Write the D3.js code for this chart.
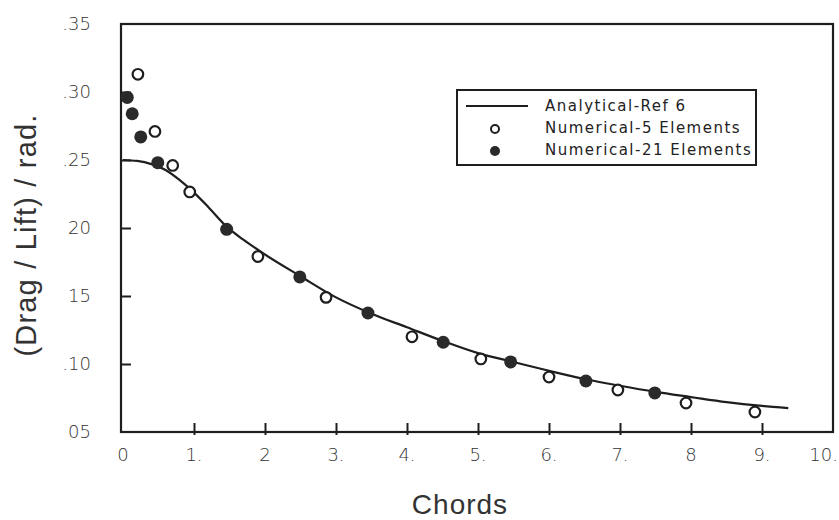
<!DOCTYPE html>
<html>
<head>
<meta charset="utf-8">
<script src="https://cdn.jsdelivr.net/npm/d3@7"></script>
<style>
  body { margin: 0; background: #fff; }
</style>
</head>
<body>
<script>
// data
var xTicks = [0, 1, 2, 3, 4, 5, 6, 7, 8, 9, 10];
var xTickLabels = ["0", "1.", "2", "3.", "4.", "5.", "6.", "7.", "8", "9.", "10."];
var yTicks = [0.05, 0.10, 0.15, 0.20, 0.25, 0.30, 0.35];
var yTickLabels = ["05", ".10", "15", "20", ".25", ".30", ".35"];

// Analytical-Ref 6 curve
var analyticalX = [0, 0.2, 0.4, 0.6, 0.8, 1.0, 1.2, 1.46, 1.7, 2.0, 2.5, 3.0, 3.5, 4.0, 4.5, 5.0, 5.5, 6.0, 6.5, 7.0, 7.5, 8.0, 8.5, 9.0, 9.37];
var analyticalY = [0.250, 0.2493, 0.2470, 0.2427, 0.2352, 0.2260, 0.2155, 0.2010, 0.1912, 0.1805, 0.1645, 0.149, 0.137, 0.127, 0.117, 0.108, 0.1015, 0.095, 0.089, 0.084, 0.0795, 0.0757, 0.072, 0.0692, 0.0676];

// Numerical - 5 elements (open circles)
var num5X = [0.21, 0.45, 0.70, 0.94, 1.90, 2.86, 4.07, 5.04, 6.00, 6.97, 7.93, 8.90];
var num5Y = [0.313, 0.271, 0.246, 0.2265, 0.179, 0.149, 0.120, 0.1037, 0.0904, 0.0809, 0.0713, 0.0647];

// Numerical - 21 elements (filled circles)
var num21X = [0.06, 0.13, 0.25, 0.49, 1.46, 2.49, 3.45, 4.51, 5.46, 6.52, 7.49];
var num21Y = [0.296, 0.284, 0.267, 0.248, 0.199, 0.164, 0.1375, 0.116, 0.1015, 0.0875, 0.0787];

var legendLabels = ["Analytical-Ref 6", "Numerical-5 Elements", "Numerical-21 Elements"];

var width = 839, height = 520;
var margin = {left: 123, right: 6, top: 24, bottom: 88};
var ink = "#1e1e1e";

var svg = d3.select("body").append("svg")
  .attr("width", width)
  .attr("height", height);

var x = d3.scaleLinear().domain([0, 10]).range([margin.left, width - margin.right]);
var y = d3.scaleLinear().domain([0.05, 0.35]).range([height - margin.bottom, margin.top]);

// frame
svg.append("rect")
  .attr("x", x(0) - 2)
  .attr("y", y(0.35))
  .attr("width", x(10) - x(0) + 2)
  .attr("height", y(0.05) - y(0.35))
  .attr("fill", "none")
  .attr("stroke", ink)
  .attr("stroke-width", 2.2);

// x axis
var xAxis = d3.axisBottom(x)
  .tickValues(xTicks.slice(1, 10))
  .tickSize(0)
  .tickFormat("");
svg.append("g")
  .attr("transform", "translate(0," + y(0.05) + ")")
  .call(xAxis)
  .call(function (g) { g.select(".domain").remove(); })
  .selectAll(".tick line")
  .attr("y1", -9).attr("y2", 3)
  .attr("stroke", ink)
  .attr("stroke-width", 2);

svg.append("g").selectAll("text")
  .data(xTicks)
  .enter().append("text")
  .attr("x", function (d, i) { return i == xTicks.length - 1 ? width - 1 : x(d); })
  .attr("y", y(0.05) + 29)
  .attr("text-anchor", function (d, i) { return i == xTicks.length - 1 ? "end" : "middle"; })
  .attr("font-family", "DejaVu Sans")
  .attr("font-weight", 200)
  .attr("font-size", 18)
  .attr("fill", "#333")
  .text(function (d, i) { return xTickLabels[i]; });

// y axis
var yAxis = d3.axisLeft(y)
  .tickValues(yTicks.slice(1, 6))
  .tickSize(0)
  .tickFormat("");
svg.append("g")
  .attr("transform", "translate(" + (x(0) - 2) + ",0)")
  .call(yAxis)
  .call(function (g) { g.select(".domain").remove(); })
  .selectAll(".tick line")
  .attr("x1", 0).attr("x2", 10)
  .attr("stroke", ink)
  .attr("stroke-width", 2);

svg.append("g").selectAll("text")
  .data(yTicks)
  .enter().append("text")
  .attr("x", 91)
  .attr("y", function (d) { return y(d); })
  .attr("dy", "0.36em")
  .attr("text-anchor", "end")
  .attr("font-family", "DejaVu Sans")
  .attr("font-weight", 200)
  .attr("font-size", 18)
  .attr("fill", "#333")
  .text(function (d, i) { return yTickLabels[i]; });

// axis titles
svg.append("text")
  .attr("transform", "translate(36,235) rotate(-90)")
  .attr("text-anchor", "middle")
  .attr("font-family", "Liberation Sans")
  .attr("font-size", 29)
  .attr("letter-spacing", 1.2)
  .attr("fill", "#333")
  .text("(Drag / Lift) / rad.");

svg.append("text")
  .attr("x", 460)
  .attr("y", 514)
  .attr("text-anchor", "middle")
  .attr("font-family", "Liberation Sans")
  .attr("font-size", 28)
  .attr("letter-spacing", 1)
  .attr("fill", "#333")
  .text("Chords");

// analytical curve
var line = d3.line()
  .x(function (d) { return x(d[0]); })
  .y(function (d) { return y(d[1]); })
  .curve(d3.curveMonotoneX);

svg.append("path")
  .datum(d3.zip(analyticalX, analyticalY))
  .attr("d", line)
  .attr("fill", "none")
  .attr("stroke", ink)
  .attr("stroke-width", 2.2);

// points
svg.append("g").selectAll("circle")
  .data(d3.zip(num5X, num5Y))
  .enter().append("circle")
  .attr("cx", function (d) { return x(d[0]); })
  .attr("cy", function (d) { return y(d[1]); })
  .attr("r", 5.3)
  .attr("fill", "#fff")
  .attr("stroke", ink)
  .attr("stroke-width", 2.2);

svg.append("g").selectAll("circle")
  .data(d3.zip(num21X, num21Y))
  .enter().append("circle")
  .attr("cx", function (d) { return x(d[0]); })
  .attr("cy", function (d) { return y(d[1]); })
  .attr("r", 6.5)
  .attr("fill", "#2a2a2a");

// legend
var legend = svg.append("g").attr("transform", "translate(457,90)");
legend.append("rect")
  .attr("width", 299)
  .attr("height", 75)
  .attr("fill", "#fff")
  .attr("stroke", ink)
  .attr("stroke-width", 2);

legend.append("line")
  .attr("x1", 9).attr("x2", 71)
  .attr("y1", 16).attr("y2", 16)
  .attr("stroke", ink)
  .attr("stroke-width", 2.2);
legend.append("circle")
  .attr("cx", 38).attr("cy", 39).attr("r", 4)
  .attr("fill", "#fff").attr("stroke", ink).attr("stroke-width", 2);
legend.append("circle")
  .attr("cx", 38).attr("cy", 61).attr("r", 5)
  .attr("fill", "#2a2a2a");

legend.selectAll("text.lab")
  .data(legendLabels)
  .enter().append("text")
  .attr("class", "lab")
  .attr("x", 88)
  .attr("y", function (d, i) { return 16 + i * 22; })
  .attr("dy", "0.36em")
  .attr("font-family", "DejaVu Sans")
  .attr("font-size", 15)
  .attr("letter-spacing", 1.5)
  .attr("fill", "#222")
  .text(function (d) { return d; });
</script>
</body>
</html>
